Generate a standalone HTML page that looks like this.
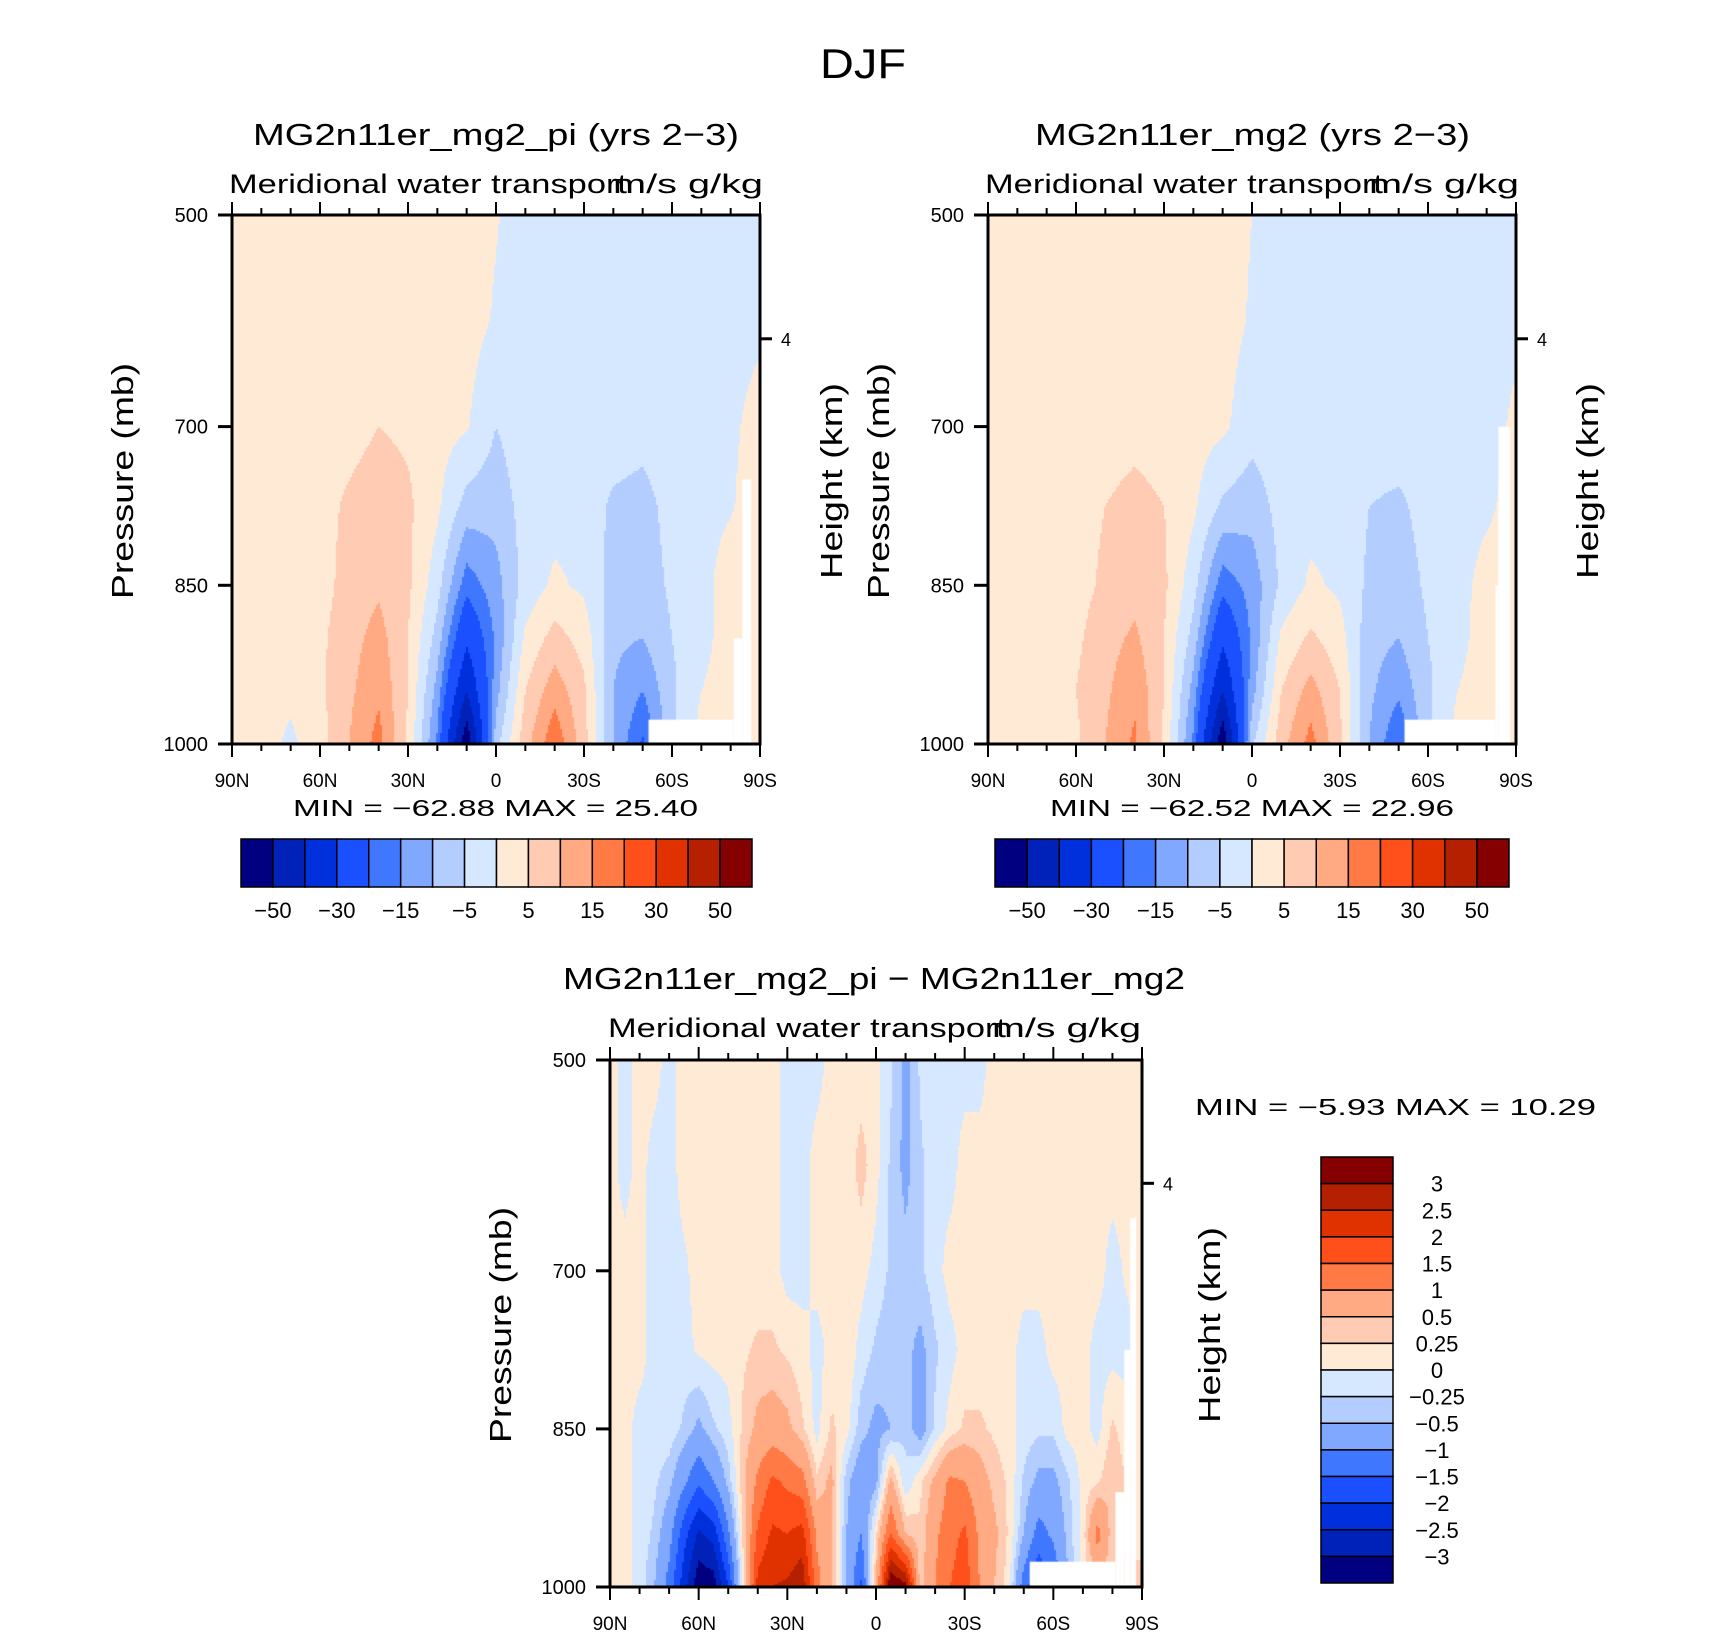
<!DOCTYPE html>
<html><head><meta charset="utf-8">
<style>
html,body{margin:0;padding:0;background:#fff;}
#root{position:relative;width:1710px;height:1636px;overflow:hidden;background:#fff;font-family:"Liberation Sans",sans-serif;}
canvas{position:absolute;}
svg{position:absolute;left:0;top:0;}
</style></head>
<body>
<div id="root">
<canvas id="c1"></canvas>
<canvas id="c2"></canvas>
<canvas id="c3"></canvas>
<svg id="ov" width="1710" height="1636"></svg>
</div>
<script>
// ---------- data ----------
const lats10 = [90,80,70,60,50,40,30,20,10,0,-10,-20,-30,-40,-50,-60,-70,-80,-90];
const lats5 = [90,85,80,75,70,65,60,55,50,45,40,35,30,25,20,15,10,5,0,-5,-10,-15,-20,-25,-30,-35,-40,-45,-50,-55,-60,-65,-70,-75,-80,-85,-90];
const levels = [500,600,700,775,850,900,950,1000];
const pressureTicks = [500,700,850,1000];
const latTickLabels = ["90N","60N","30N","0","30S","60S","90S"];
const contourLevelsA = [-50,-40,-30,-20,-15,-10,-5,0,5,10,15,20,30,40,50];
const contourLevelsB = [-3,-2.5,-2,-1.5,-1,-0.5,-0.25,0,0.25,0.5,1,1.5,2,2.5,3];
const cbLabelsA = ["−50","−30","−15","−5","5","15","30","50"];
const cbLabelsB = ["3","2.5","2","1.5","1","0.5","0.25","0","−0.25","−0.5","−1","−1.5","−2","−2.5","−3"];
const palette = ["#000080","#0022b8","#0030dc","#1a50ff","#4077ff","#80a8ff","#b3cdff","#d6e8ff","#ffead6","#ffcbb2","#ffaa82","#ff7a45","#ff4f1a","#e03200","#b52000","#850000"];

const valuesPI = [
[2,2,2,2,2,2,2,2,2,0.3,-2,-2,-2,-2,-2,-2,-2,-2,-2],
[2,2,2,2,2,2,2,2,2,-0.5,-2,-2,-2,-2,-2,-2,-2,-2,-1],
[2,2,2,2,3,5,4,2,0.5,-5,-2,-2,-2,-2,-3,-2,-2,-1,2],
[2,2,2,3,6,8,6,1,-7,-8,-3,-2,-2,-6,-7,-3,-2,-0.5,3],
[2,2,2,3,7,9,6,-3,-18,-12,-3,1,-1,-7,-8,-4,-2,3,3],
[2,2,2,4,8,12,5,-7,-28,-14,1,7,3,-9,-10,-5,-2,3,3],
[2,2,1,4,9,14,5,-12,-40,-12,5,13,6,-10,-15,-6,0,3,3],
[2,2,-1,3,10,17,4,-16,-58,-7,8,19,7,-10,-21,-6,2,3,3]];
const valuesMG2 = [
[2,2,2,2,2,2,2,2,2,0,-2,-2,-2,-2,-2,-2,-2,-2,-2],
[2,2,2,2,2,2,2,2,2,-0.5,-2,-2,-2,-2,-2,-2,-2,-2,-1],
[2,2,2,2,2,3,2,2,1,-3,-2,-2,-2,-2,-2,-2,-2,-2,1],
[2,2,2,3,5,7,5,1,-6,-8,-3,-2,-2,-5,-6,-3,-2,-1,2],
[2,2,2,3,6,8,6,-3,-18,-13,-4,1,-1,-6,-8,-4,-2,2,3],
[2,2,2,4,8,11,5,-7,-28,-14,1,6,2,-8,-10,-5,-2,3,3],
[2,2,2,5,9,14,5,-12,-40,-12,5,12,5,-9,-14,-6,0,3,3],
[2,2,2,4,10,16,4,-16,-58,-6,8,17,6,-10,-20,-6,2,3,3]];
const valuesDiff = [
[.1,-.1,.1,.1,-.1,.1,.1,.1,.1,.1,.1,.1,-.1,-.1,-.1,.1,.1,.1,.1,-.2,-.6,-.2,-.1,-.1,-.1,-.1,.1,.1,.1,.1,.1,.1,.1,.1,.1,.1,.1],
[.1,-.1,.1,-.1,-.1,.1,.1,.1,.1,.1,.1,.1,-.1,-.1,.1,.1,.1,.35,.1,-.3,-.6,-.3,-.1,-.1,.1,.1,.1,.1,.1,.1,.1,.1,.1,.1,.1,.1,.1],
[.1,.1,.1,-.1,-.1,-.05,.1,.1,.1,.1,.1,.1,-.1,-.1,.1,.1,.1,.1,-.1,-.3,-.4,-.3,-.1,.1,.1,.1,.1,.1,.1,.1,.1,.1,.1,.1,-.1,.05,.1],
[.1,.1,.1,-.1,-.1,-.1,.05,.1,.1,.2,.3,.3,.2,.1,-.1,.1,.2,-.1,-.3,-.4,-.4,-.6,-.3,-.1,.1,.1,.1,.1,-.1,-.1,.1,.1,.1,-.1,-.1,-.1,.1],
[.1,.1,-.1,-.1,-.1,-.3,-.6,-.3,-.1,.3,.6,.7,.6,.3,-.1,.3,.1,-.4,-.6,-.5,-.3,-.7,-.2,.1,.3,.3,.2,.1,-.1,-.2,-.2,.1,.1,-.1,.3,.1,.1],
[.2,.1,-.1,-.2,-.4,-.9,-1.4,-1,-.4,.4,1.1,1.6,1.4,1.2,.3,.6,-.4,-.8,-.6,.6,-.2,.2,.6,1.1,1,.7,.4,.2,-.3,-.6,-.6,-.3,.1,.2,.5,.2,.1],
[.2,.1,-.1,-.3,-.8,-1.8,-2.6,-2.3,-1.1,.3,1.6,2.1,2,2.2,.9,.5,-.5,-1,.2,1.5,.5,.3,.9,1.3,1.6,.9,.6,.2,-.5,-1.2,-.9,-.4,.1,1.2,.3,.2,.2],
[.2,.1,-.1,-.5,-1.2,-2.3,-3.4,-3.3,-2,.1,2.2,2.5,2.6,2.9,1.2,.5,-.5,-1.6,.5,3.6,3.2,.3,1,1.5,1.8,1,.5,.1,-1.3,-2,-1.5,-.5,.1,.3,.3,.3,.3]];
// missing-data masks: [latFrom, latTo, pressureFrom]
const missingPI = [[-52,-81,977],[-81,-84,900],[-84,-87,750]];
const missingMG2 = [[-52,-83,977],[-83,-84,850],[-84,-88,700]];
const missingDiff = [[-52,-81,976],[-81,-84,910],[-84,-86,775],[-86,-88,650]];

// ---------- geometry ----------
const panels = [
 {id:'c1',L:232,T:215,W:528,H:529,lats:lats10,vals:valuesPI,lev:contourLevelsA,miss:missingPI},
 {id:'c2',L:988,T:215,W:528,H:529,lats:lats10,vals:valuesMG2,lev:contourLevelsA,miss:missingMG2},
 {id:'c3',L:610,T:1060,W:532,H:527,lats:lats5,vals:valuesDiff,lev:contourLevelsB,miss:missingDiff}];
const pTickFrac = [0,0.4,0.7,1];
function pToFrac(p){for(let i=0;i<3;i++){const a=pressureTicks[i],b=pressureTicks[i+1];if(p<=b)return pTickFrac[i]+(p-a)/(b-a)*(pTickFrac[i+1]-pTickFrac[i]);}return 1;}
function latToFrac(l){return (90-l)/180;}
function classify(v,lev){let k=0;while(k<lev.length&&v>=lev[k])k++;return k;}

panels.forEach(P=>{
 const cv=document.getElementById(P.id);
 cv.width=P.W;cv.height=P.H;cv.style.left=P.L+'px';cv.style.top=P.T+'px';
 const ctx=cv.getContext('2d');
 const rowF=levels.map(pToFrac), colF=P.lats.map(latToFrac);
 const step=2;
 for(let py=0;py<P.H;py+=step){
  const fy=(py+1)/P.H;
  let r=0;while(r<rowF.length-2&&fy>rowF[r+1])r++;
  const ty=Math.min(1,Math.max(0,(fy-rowF[r])/(rowF[r+1]-rowF[r])));
  for(let px=0;px<P.W;px+=step){
   const fx=(px+1)/P.W;
   let c=0;while(c<colF.length-2&&fx>colF[c+1])c++;
   const tx=Math.min(1,Math.max(0,(fx-colF[c])/(colF[c+1]-colF[c])));
   const v=(1-ty)*((1-tx)*P.vals[r][c]+tx*P.vals[r][c+1])+ty*((1-tx)*P.vals[r+1][c]+tx*P.vals[r+1][c+1]);
   ctx.fillStyle=palette[classify(v,P.lev)];
   ctx.fillRect(px,py,step,step);
  }
 }
 ctx.fillStyle='#fff';
 P.miss.forEach(m=>{
  const x0=latToFrac(m[0])*P.W,x1=latToFrac(m[1])*P.W,y0=pToFrac(m[2])*P.H;
  ctx.fillRect(x0,y0,x1-x0,P.H-y0);
 });
});

// ---------- overlay ----------
const NS='http://www.w3.org/2000/svg';
const ov=document.getElementById('ov');
function el(tag,attrs,parent){const e=document.createElementNS(NS,tag);for(const k in attrs)e.setAttribute(k,attrs[k]);(parent||ov).appendChild(e);return e;}
function txt(s,x,y,size,anchor,len,name,rot){
 const t=el('text',{x:x,y:y,'font-size':size,'text-anchor':anchor||'middle',fill:'#000','font-family':'"Liberation Sans",sans-serif'});
 if(len){t.setAttribute('textLength',len);t.setAttribute('lengthAdjust','spacingAndGlyphs');}
 if(rot)t.setAttribute('transform','rotate(-90 '+x+' '+y+')');
 
 
 t.textContent=s;return t;
}
txt('DJF',863,78,42,'middle',86,'figure-title');

const titles=[
 {t:'MG2n11er_mg2_pi (yrs 2−3)',x0:253,x1:739,y:145},
 {t:'MG2n11er_mg2 (yrs 2−3)',x0:1035,x1:1470,y:145},
 {t:'MG2n11er_mg2_pi − MG2n11er_mg2',x0:563,x1:1185,y:989}];
const subs=[[229,627,613,763,193],[985,1383,1369,1519,193],[608,1006,992,1141,1037]];
const minmax=[[293,698,816,'MIN =  −62.88   MAX =   25.40'],[1050,1454,816,'MIN =  −62.52   MAX =   22.96'],[1195,1596,1115,'MIN =   −5.93   MAX =   10.29']];
const ylab=[[122,831,481],[878,1587,481],[500,1209,1325]];

panels.forEach((P,i)=>{
 const g=el('g',{});
 
 
 txt(titles[i].t,(titles[i].x0+titles[i].x1)/2,titles[i].y,31,'middle',titles[i].x1-titles[i].x0,'panel-title');
 txt('Meridional water transport',subs[i][0],subs[i][4],27,'start',subs[i][1]-subs[i][0],'panel-subtitle');
 txt('m/s g/kg',subs[i][2],subs[i][4],27,'start',subs[i][3]-subs[i][2],'units-label');
 txt(minmax[i][3],(minmax[i][0]+minmax[i][1])/2,minmax[i][2],23,'middle',minmax[i][1]-minmax[i][0],'min-max-label');
 txt('Pressure (mb)',ylab[i][0]+11,ylab[i][2],31,'middle',236,'y-axis-title',true);
 txt('Height (km)',ylab[i][1]+11,ylab[i][2],31,'middle',196,'right-axis-title',true);
 const L=P.L,T=P.T,W=P.W,H=P.H,R=L+W,B=T+H;
 for(let k=0;k<=18;k++){
  const x=L+k/18*W, major=k%3===0, len=major?13:7;
  el('line',{x1:x,y1:T,x2:x,y2:T-len,stroke:'#000','stroke-width':2},g);
  el('line',{x1:x,y1:B,x2:x,y2:B+len,stroke:'#000','stroke-width':2},g);
 }
 latTickLabels.forEach((s,k)=>{txt(s,L+k/6*W,B+43,19,'middle',null,'x-tick-label');});
 pressureTicks.forEach(p=>{
  const y=T+pToFrac(p)*H;
  el('line',{x1:L,y1:y,x2:L-14,y2:y,stroke:'#000','stroke-width':3},g);
  txt(String(p),L-24,y+7,20,'end',null,'y-tick-label');
 });
 const y4=T+pToFrac(617)*H;
 el('line',{x1:R,y1:y4,x2:R+12,y2:y4,stroke:'#000','stroke-width':3},g);
 txt('4',R+26,y4+7,18,'middle',null,'right-tick-label');
 const fr=el('rect',{x:L,y:T,width:W,height:H,fill:'none',stroke:'#000','stroke-width':3},g);
 
 
});

// horizontal colorbars
[[241,752],[995,1509]].forEach(([x0,x1],j)=>{
 const y0=839,y1=887,n=palette.length,w=(x1-x0)/n;
 palette.forEach((col,k)=>{
  const r=el('rect',{x:x0+k*w,y:y0,width:w,height:y1-y0,fill:col,stroke:'#000','stroke-width':1.5});
  
  
 });
 cbLabelsA.forEach((s,k)=>{txt(s,x0+(1+2*k)*w,918,22,'middle',null,'colorbar-label');});
});
// vertical colorbar
(function(){
 const x0=1321,x1=1393,y0=1157,y1=1583,n=palette.length,h=(y1-y0)/n;
 for(let k=0;k<n;k++){
  const r=el('rect',{x:x0,y:y0+k*h,width:x1-x0,height:h,fill:palette[n-1-k],stroke:'#000','stroke-width':1.5});
  
  
 }
 cbLabelsB.forEach((s,k)=>{txt(s,1437,y0+(k+1)*h+8,22,'middle',null,'colorbar-label');});
})();
</script>
</body></html>
